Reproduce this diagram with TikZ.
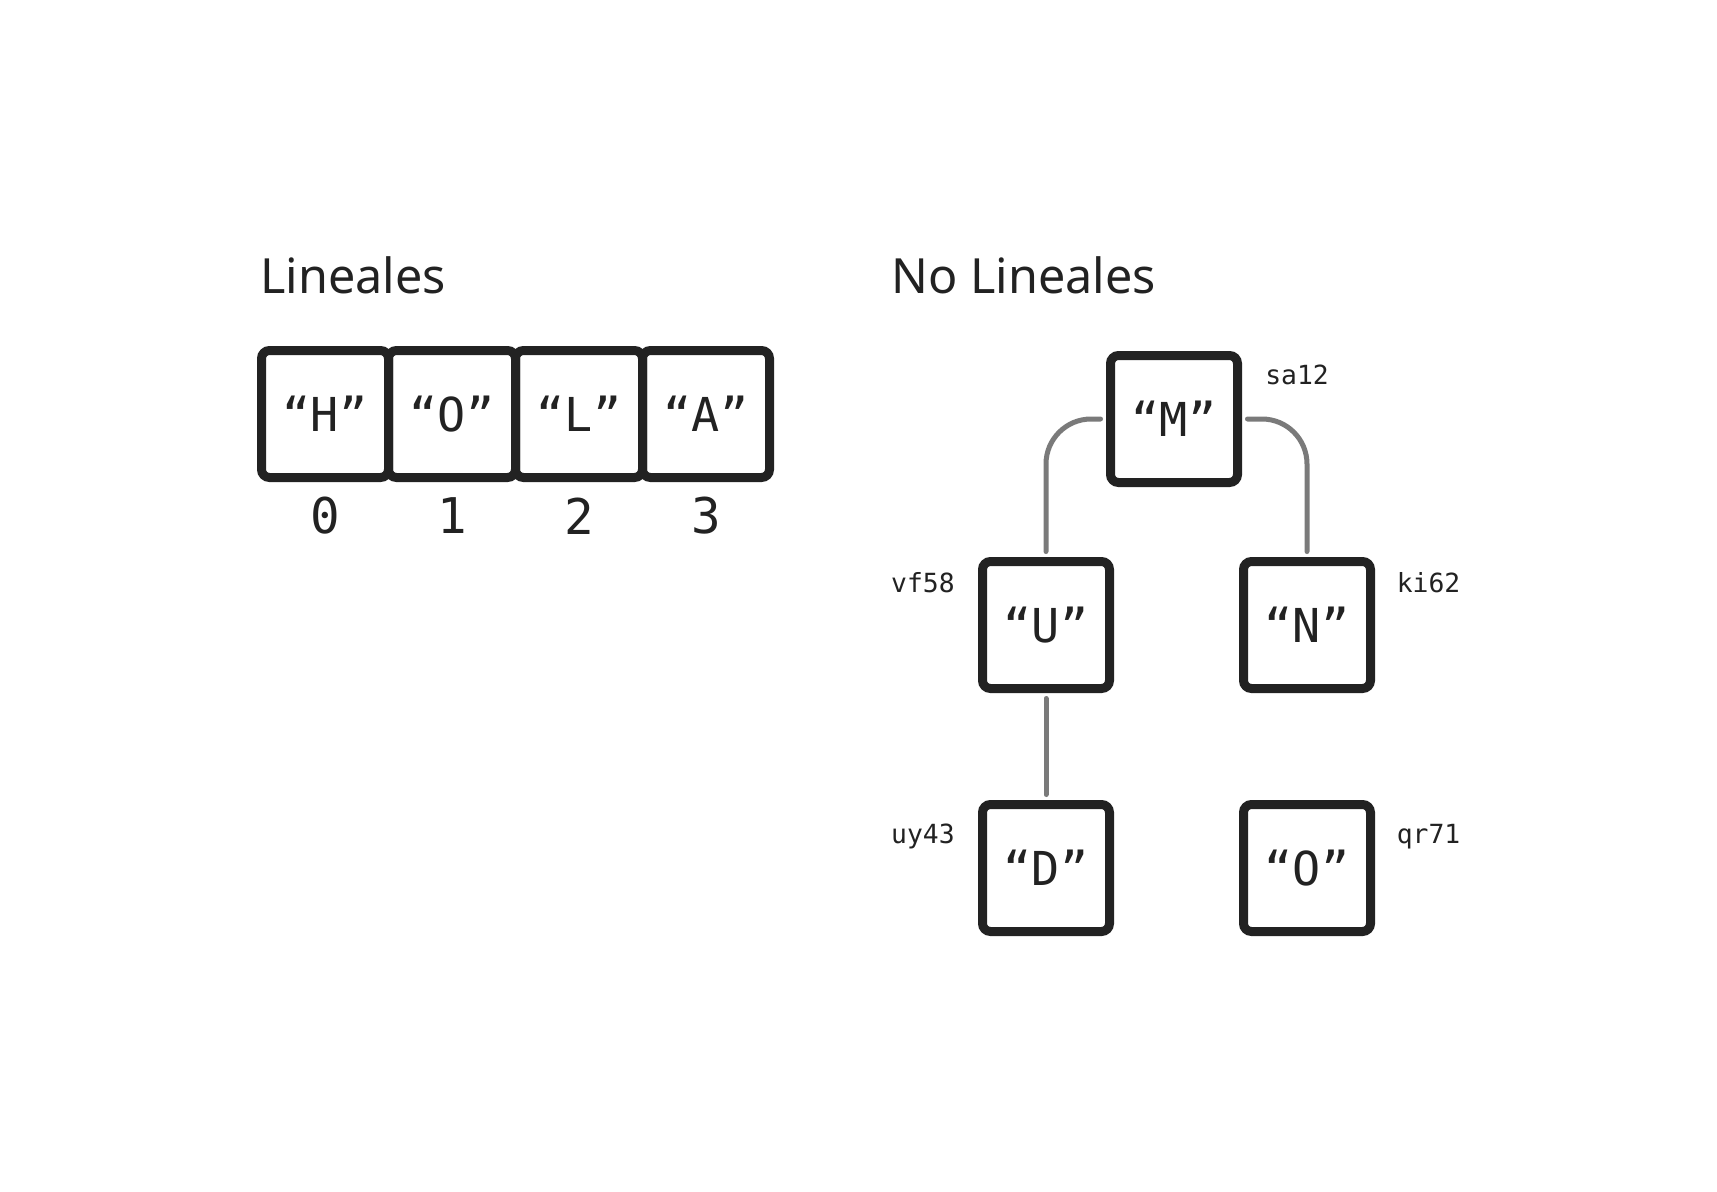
\documentclass[tikz,border=0pt]{standalone}
\usepackage{fontspec}
\setmainfont{Noto Sans}
\newfontfamily\codefont{DejaVu Sans Mono}
\usetikzlibrary{positioning}
\definecolor{ink}{HTML}{222222}
\definecolor{wire}{HTML}{7A7A7A}

\begin{document}
\begin{tikzpicture}[
  cell/.style={draw=ink, line width=0.18cm, rounded corners=0.16cm, minimum size=2.54cm,
    inner sep=0pt, outer sep=0pt, text=ink, font=\codefont\fontsize{26.6}{30}\selectfont},
  idx/.style={text=ink, font=\codefont\fontsize{28}{32}\selectfont},
  tag/.style={text=ink, inner sep=0pt, font=\codefont\fontsize{15}{18}\selectfont},
  heading/.style={text=ink, inner sep=0pt, anchor=base west, font=\fontsize{27.6}{33}\selectfont},
  link/.style={draw=wire, line width=0.1cm, line cap=round, rounded corners=0.9cm,
    shorten <=0.2cm, shorten >=0.2cm}
]
\fill[white] (0,0) rectangle (34.34,-23.84);
\useasboundingbox (0,0) rectangle (34.34,-23.84);

%linear
\node[heading] (tlin) at (5.2,-5.86) {Lineales};
\node[cell] (h) at (6.5,-8.28) {“H”};
\node[cell, right=0pt of h] (o) {“O”};
\node[cell, right=0pt of o] (l) {“L”};
\node[cell, right=0pt of l] (a) {“A”};

\node[idx] (i0) at ([yshift=-0.77cm]h.south) {0};
\node[idx] (i1) at ([yshift=-0.77cm]o.south) {1};
\node[idx] (i2) at ([yshift=-0.77cm]l.south) {2};
\node[idx] (i3) at ([yshift=-0.77cm]a.south) {3};

%tree
\node[heading] (ttree) at (17.82,-5.86) {No Lineales};
\node[cell] (m) at (23.48,-8.38) {“M”};
\node[cell] (u) at (20.92,-12.5) {“U”};
\node[cell] (n) at (26.14,-12.5) {“N”};
\node[cell] (d) at (20.92,-17.36) {“D”};
\node[cell] (q) at (26.14,-17.36) {“O”};

\node[tag, anchor=west] (sm) at ([xshift=0.55cm, yshift=-0.38cm]m.north east) {sa12};
\node[tag, anchor=east] (su) at ([xshift=-0.55cm, yshift=-0.43cm]u.north west) {vf58};
\node[tag, anchor=west] (sn) at ([xshift=0.52cm, yshift=-0.43cm]n.north east) {ki62};
\node[tag, anchor=east] (sd) at ([xshift=-0.55cm, yshift=-0.64cm]d.north west) {uy43};
\node[tag, anchor=west] (sq) at ([xshift=0.52cm, yshift=-0.64cm]q.north east) {qr71};

\draw[link] (m.west) -| (u.north);
\draw[link] (m.east) -| (n.north);
\draw[link] (u.south) -- (d.north);
\end{tikzpicture}
\end{document}
